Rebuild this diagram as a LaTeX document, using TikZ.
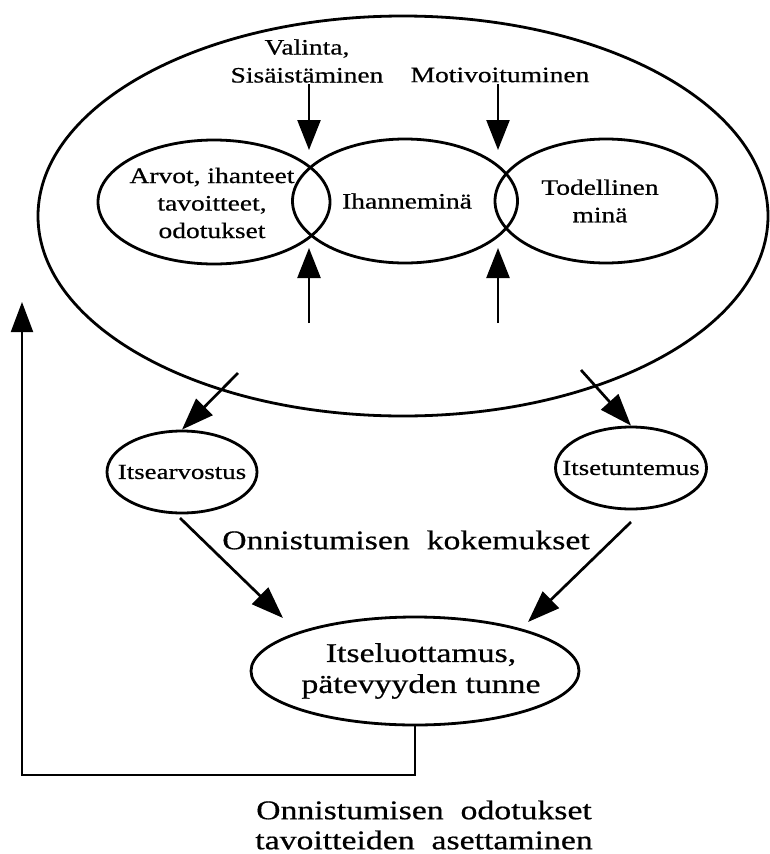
\documentclass[tikz,border=0pt]{standalone}
\usepackage{fontspec}
\setmainfont[FakeStretch=1.25,FakeBold=0.6]{Liberation Serif}
\usetikzlibrary{shapes.geometric,arrows.meta}
\begin{document}
\begin{tikzpicture}[x=1pt,y=-1pt,
  ell/.style={draw,ellipse,line width=2.8pt,inner sep=0pt},
  txt/.style={align=center,inner sep=0pt,font=\fontsize{22}{27.5}\selectfont},
  small/.style={align=center,inner sep=0pt,font=\fontsize{21.5}{26}\selectfont},
  big/.style={align=center,inner sep=0pt,font=\fontsize{27}{31}\selectfont},
  arr/.style={line width=2.5pt,-{Triangle[width=23pt,length=30pt]}},
  darr/.style={line width=2.7pt,-{Triangle[width=23pt,length=32pt]}},
  fb/.style={line width=2pt,-{Triangle[width=22pt,length=30pt]}}]
\useasboundingbox (0,0) rectangle (769,854);
% outer ellipse
\node[ell,minimum width=730pt,minimum height=400pt] (outer) at (403,216) {};
% inner ellipses
\node[ell,minimum width=232pt,minimum height=124pt] (arv) at (214,202) {};
\node[ell,minimum width=225pt,minimum height=124pt] (ih) at (405,201) {};
\node[ell,minimum width=222pt,minimum height=124pt] (tod) at (606,201) {};
\node[txt] (arvt) at (212,203) {Arvot, ihanteet\\tavoitteet,\\odotukset};
\node[txt] (iht) at (407,201) {Ihanneminä};
\node[txt] (todt) at (600,201) {Todellinen\\minä};
% top labels
\node[txt,font=\fontsize{22}{28}\selectfont] (val) at (307,61) {Valinta,\\Sisäistäminen};
\node[txt] (mot) at (500,75) {Motivoituminen};
% vertical arrows
\coordinate (d1s) at (309,84);
\coordinate (d1e) at (309,150);
\coordinate (d2s) at (498,84);
\coordinate (d2e) at (498,150);
\coordinate (u1s) at (309,323);
\coordinate (u1e) at (309,248);
\coordinate (u2s) at (498,323);
\coordinate (u2e) at (498,248);
\draw[arr] (d1s) -- (d1e);
\draw[arr] (d2s) -- (d2e);
\draw[arr] (u1s) -- (u1e);
\draw[arr] (u2s) -- (u2e);
% middle ellipses
\node[ell,minimum width=150pt,minimum height=82pt] (sa) at (182,472) {};
\node[small] (sat) at (182,472) {Itsearvostus};
\node[ell,minimum width=151pt,minimum height=82pt] (st) at (631,468) {};
\node[small] (stt) at (631,468) {Itsetuntemus};
\coordinate (o1) at (238,373);
\coordinate (o2) at (581,370);
\draw[darr] (o1) -- (sa.north);
\draw[darr] (o2) -- (st.north);
% experiences
\node[big] (kok) at (406,540) {Onnistumisen\ \ kokemukset};
\node[ell,minimum width=328pt,minimum height=108pt] (lu) at (415,671) {};
\node[big] (lut) at (421,671) {Itseluottamus,\\pätevyyden tunne};
\coordinate (a1) at (180,518);
\coordinate (a1e) at (283,618);
\coordinate (a2) at (631,522);
\coordinate (a2e) at (528,622);
\draw[darr] (a1) -- (a1e);
\draw[darr] (a2) -- (a2e);
% feedback
\coordinate (fbend) at (22,302);
\draw[fb] (lu.south) |- (22,775) -- (fbend);
\node[big,font=\fontsize{27}{30}\selectfont] (odo) at (424,825) {Onnistumisen\ \ odotukset\\tavoitteiden\ \ asettaminen};
\end{tikzpicture}
\end{document}
